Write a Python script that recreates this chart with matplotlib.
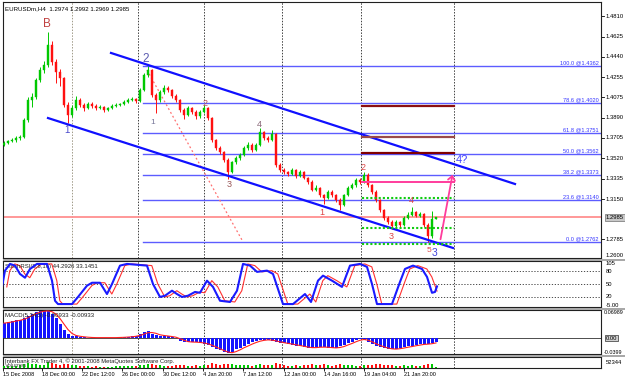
import matplotlib
matplotlib.use('Agg')
import matplotlib.pyplot as plt
import numpy as np
import pandas as pd
from matplotlib.patches import Rectangle, FancyArrowPatch
from matplotlib.transforms import blended_transform_factory

plt.rcParams['font.family'] = ['Liberation Sans', 'DejaVu Sans']

# ---------------- data ----------------
first_open = 1.3640
closes = [1.3660,1.3678,1.3687,1.3705,1.3714,1.3868,1.4050,1.4077,1.4231,1.4321,
1.4367,1.4548,1.4394,1.4303,1.4249,1.4004,1.3914,1.3977,1.4050,1.4004,
1.3977,1.4013,1.3995,1.3977,1.3986,1.3959,1.3977,1.3995,1.4004,1.4013,
1.4031,1.4050,1.4059,1.4040,1.4140,1.4276,1.4321,1.4095,1.4050,1.4122,
1.4158,1.4140,1.4086,1.4050,1.3959,1.3914,1.3977,1.3941,1.3904,1.3941,
1.3977,1.3886,1.3687,1.3614,1.3578,1.3506,1.3397,1.3488,1.3524,1.3551,
1.3614,1.3642,1.3596,1.3642,1.3759,1.3705,1.3687,1.3741,1.3460,1.3415,
1.3397,1.3379,1.3415,1.3361,1.3397,1.3342,1.3306,1.3234,1.3252,1.3188,
1.3161,1.3216,1.3188,1.3143,1.3098,1.3188,1.3252,1.3279,1.3324,1.3306,
1.3370,1.3279,1.3216,1.3143,1.3052,1.2980,1.2944,1.2907,1.2944,1.2916,
1.2980,1.3007,1.3034,1.2998,1.3016,1.2916,1.2817,1.2974,1.2985]
highs = [1.3675,1.3690,1.3705,1.3720,1.3730,1.3885,1.4075,1.4110,1.4250,1.4345,
1.4400,1.4666,1.4580,1.4420,1.4330,1.4260,1.4030,1.4000,1.4085,1.4070,
1.4020,1.4030,1.4035,1.4010,1.4000,1.3995,1.3990,1.4010,1.4020,1.4025,
1.4045,1.4065,1.4075,1.4070,1.4155,1.4295,1.4362,1.4335,1.4110,1.4140,
1.4185,1.4175,1.4150,1.4100,1.4060,1.3975,1.3995,1.3990,1.3955,1.3960,
1.4000,1.3990,1.3895,1.3700,1.3630,1.3590,1.3520,1.3500,1.3540,1.3570,
1.3630,1.3670,1.3660,1.3660,1.3800,1.3770,1.3720,1.3780,1.3750,1.3475,
1.3430,1.3410,1.3430,1.3425,1.3415,1.3405,1.3355,1.3320,1.3275,1.3265,
1.3200,1.3230,1.3230,1.3200,1.3160,1.3200,1.3270,1.3295,1.3340,1.3340,
1.3400,1.3385,1.3290,1.3230,1.3155,1.3065,1.2995,1.2960,1.2960,1.2955,
1.3000,1.3030,1.3080,1.3045,1.3035,1.3025,1.2930,1.3040,1.2992]
lows = [1.3630,1.3650,1.3665,1.3670,1.3690,1.3705,1.3850,1.3990,1.4060,1.4215,
1.4290,1.4350,1.4370,1.4200,1.4180,1.3990,1.3840,1.3895,1.3960,1.3985,
1.3950,1.3965,1.3980,1.3960,1.3965,1.3945,1.3950,1.3970,1.3985,1.3995,
1.4005,1.4020,1.4040,1.4025,1.4030,1.4130,1.4260,1.4080,1.3932,1.4035,
1.4100,1.4120,1.4070,1.4030,1.3940,1.3880,1.3900,1.3925,1.3880,1.3890,
1.3930,1.3870,1.3670,1.3600,1.3560,1.3490,1.3330,1.3385,1.3470,1.3510,
1.3540,1.3600,1.3580,1.3585,1.3630,1.3690,1.3670,1.3675,1.3440,1.3400,
1.3380,1.3360,1.3365,1.3345,1.3350,1.3330,1.3290,1.3220,1.3220,1.3170,
1.3110,1.3150,1.3170,1.3125,1.3055,1.3085,1.3175,1.3240,1.3265,1.3290,
1.3295,1.3265,1.3200,1.3125,1.3035,1.2965,1.2925,1.2880,1.2895,1.2895,
1.2905,1.2970,1.2995,1.2985,1.2985,1.2900,1.2762,1.2800,1.2969]
opens = [first_open] + closes[:-1]

volumes = [22000,18000,15000,20000,26000,38000,45000,40000,35000,30000,
28000,52344,42000,36000,30000,40000,33000,25000,30000,22000,
18000,15000,12000,14000,10000,9000,11000,13000,15000,14000,
16000,18000,20000,17000,25000,30000,34000,38000,30000,24000,
20000,18000,22000,24000,28000,26000,20000,22000,24000,21000,
23000,30000,42000,36000,30000,34000,40000,32000,26000,24000,
28000,26000,22000,25000,34000,28000,24000,30000,44000,32000,
26000,22000,20000,24000,22000,26000,28000,34000,26000,30000,
32000,26000,22000,28000,34000,30000,26000,24000,22000,20000,
28000,30000,26000,32000,36000,30000,28000,26000,22000,20000,
24000,22000,26000,20000,18000,28000,36000,40000,8000]

macd_hist = [0.037,0.040,0.043,0.044,0.045,0.051,0.056,0.061,0.065,0.067,
0.068,0.068,0.061,0.050,0.035,0.019,0.009,0.006,0.004,0.003,
0.002,0.001,0.001,0.001,0.001,0.001,0.001,0.001,0.001,0.002,
0.002,0.003,0.004,0.006,0.009,0.014,0.017,0.010,0.008,0.006,
0.005,0.004,0.002,0.000,-0.007,-0.010,-0.010,-0.010,-0.011,-0.012,
-0.014,-0.018,-0.022,-0.027,-0.031,-0.036,-0.038,-0.036,-0.028,-0.025,
-0.020,-0.015,-0.011,-0.008,-0.005,-0.0045,-0.0045,-0.007,-0.010,-0.012,
-0.013,-0.015,-0.017,-0.019,-0.020,-0.023,-0.025,-0.024,-0.023,-0.022,
-0.023,-0.024,-0.025,-0.025,-0.021,-0.018,-0.013,-0.010,-0.005,-0.002,
-0.004,-0.010,-0.014,-0.019,-0.022,-0.025,-0.028,-0.028,-0.027,-0.025,
-0.023,-0.021,-0.020,-0.017,-0.016,-0.015,-0.015,-0.0125,-0.0093]

stoch_x = [-0.5,0.25,1.5,2.75,4,5.25,6.5,8.25,10.75,12,12.75,13.5,17,18.5,20.75,22,24,25.75,27,29,
           30.75,35.75,37.25,39,40.25,42,43.25,44.5,46,47.75,49,50.75,52.25,54,56.5,58.25,59.75,61.5,
           63.25,65.75,67.25,69.75,72.25,75.25,76.75,78.5,79.75,82,84.5,86.5,89,90.75,92,93.25,97,99,
           100.25,102.25,104.5,105.75,107,107.75,108.25]
stoch_main = [43,82,98,94,74,65,86,98,98,58,10,2,2,19,46,53,53,26,50,94,
              98,94,50,19,22,34,26,19,22,31,29,58,43,10,7,34,98,94,
              79,82,74,2,2,26,7,58,70,58,43,94,98,91,50,2,2,55,
              86,94,86,67,29,31,44.29]
stoch_signal = stoch_main[:60] + [33.15]

fib_pct = ["100.0", "78.6", "61.8", "50.0", "38.2", "23.6", "0.0"]
fib_price = [1.4362, 1.4020, 1.3751, 1.3562, 1.3373, 1.3140, 1.2762]
fib_start = 34.75

price_ticks = [1.4810, 1.4625, 1.4440, 1.4255, 1.4075, 1.3890, 1.3705, 1.3520,
               1.3335, 1.3150, 1.2785]
bottom_price_label = "1.2600"
date_pos = [-0.25, 9.5, 19.5, 29.5, 39.75, 49.75, 59.75, 70, 80, 90, 100]
date_labels = ["15 Dec 2008", "18 Dec 00:00", "22 Dec 12:00", "26 Dec 00:00", "30 Dec 12:00",
               "4 Jan 20:00", "7 Jan 12:00", "12 Jan 00:00", "14 Jan 16:00", "19 Jan 04:00",
               "21 Jan 20:00"]
vlines_pos = [17, 33.5, 50, 69.5, 89.25, 112.5]

channel_upper = [(26.75, 1.4476), (127.75, 1.3288)]
channel_lower = [(11.0, 1.3886), (112.25, 1.2708)]
red_diag = [(35.75, 1.4321), (59.5, 1.2780)]
arrow_pts = [(109.0, 1.2762), (112.25, 1.3397)]
maroon_levels = [1.3995, 1.3712, 1.3566]
pink_level = 1.3306
green_levels = [1.3161, 1.2889, 1.2744]
zone_span = (89.5, 112.5)
current_price = 1.2985

wave_labels = [
    (10.75, 1.4738, "B", "#c04040", 8.5),
    (15.75, 1.3778, "1", "#4a4acc", 7),
    (35.5, 1.4421, "2", "#5a5ab0", 8.5),
    (37.25, 1.3850, "1", "#777799", 6),
    (50.25, 1.4022, "2", "#bb5555", 6.5),
    (56.25, 1.3279, "3", "#995555", 6.5),
    (63.75, 1.3823, "4", "#886677", 6.5),
    (79.5, 1.3034, "1", "#dd4444", 6.5),
    (89.75, 1.3433, "2", "#dd4444", 6.5),
    (96.75, 1.2808, "3", "#dd4444", 6.5),
    (101.75, 1.3134, "4", "#dd4444", 6.5),
    (106.25, 1.2681, "5", "#dd4444", 6),
    (107.6, 1.2663, "3", "#4444dd", 7.5),
    (114.5, 1.3506, "4?", "#4444ff", 8),
]

# ---------------- figure ----------------
W, H = 625, 377
fig = plt.figure(figsize=(W / 100, H / 100), dpi=100)
fig.patch.set_facecolor('white')

def ax_at(x0, y0, x1, y1):
    return fig.add_axes([x0 / W, 1 - y1 / H, (x1 - x0) / W, (y1 - y0) / H])

XL = (-0.25, 149.25)
ax = ax_at(3, 2, 601, 258)
axs = ax_at(3, 261, 601, 307)
axm = ax_at(3, 310, 601, 354)
axv = ax_at(3, 357, 601, 368)

LBL = 4.2  # right-scale label size

for a in (ax, axs, axm, axv):
    a.set_xlim(*XL)
    a.set_xticks([])
    a.set_yticks([])
    for s in a.spines.values():
        s.set_color('#202020')
        s.set_linewidth(0.8)
    for xv in vlines_pos:
        col = '#a09a88' if xv == vlines_pos[0] else '#404040'
        a.axvline(xv, color=col, lw=0.7, ls=(0, (1.5, 1.5)), zorder=1)

# separators
for yy in (258, 307, 354):
    fig.patches.append(Rectangle((3 / W, 1 - (yy + 2.5) / H), (W - 3) / W, 2 / H,
                                 transform=fig.transFigure, facecolor='#a8a8a8',
                                 edgecolor='none', zorder=0))

# ---- main panel ----
ax.set_ylim(1.2617, 1.4938)
idx = np.arange(len(closes))
for i in idx:
    o, c, h, l = opens[i], closes[i], highs[i], lows[i]
    col = '#00c800' if c >= o else '#ff1010'
    ax.plot([i, i], [l, h], color=col, lw=0.7, zorder=3, solid_capstyle='butt')
    ax.add_patch(Rectangle((i - 0.3, min(o, c)), 0.6, max(abs(c - o), 0.0004),
                           facecolor=col, edgecolor=col, lw=0.3, zorder=3))

ax.axhline(current_price, color='#ff9090', lw=1.3, zorder=2)

for p in fib_price:
    ax.plot([fib_start, XL[1]], [p, p], color='#5c5cff', lw=1.0, zorder=2)
btr = blended_transform_factory(ax.transAxes, ax.transData)
for lab, p in zip(fib_pct, fib_price):
    ax.text(0.996, p + 0.0006, f"{lab} @{p:.4f}", transform=btr,
            ha='right', va='bottom', fontsize=4.1, color='#3434ff', zorder=5)

ax.plot(*zip(*channel_upper), color='#1010ff', lw=1.6, zorder=4)
ax.plot(*zip(*channel_lower), color='#1010ff', lw=1.6, zorder=4)
ax.plot(*zip(*red_diag), color='#ff7070', lw=0.9, ls=(0, (1.5, 2)), zorder=2)

for p, col in zip(maroon_levels, ['#8b1010', '#9a4a4a', '#800000']):
    ax.plot(zone_span, [p, p], color=col, lw=1.6, zorder=4)
ax.plot(zone_span, [pink_level, pink_level], color='#ff3c9c', lw=1.4, zorder=4)
for p in green_levels:
    ax.plot(zone_span, [p, p], color='#10cc10', lw=1.5, ls=(0, (1, 1)), zorder=4)

arr = FancyArrowPatch(arrow_pts[0], arrow_pts[1], arrowstyle='->,head_length=3,head_width=2.5',
                      color='#ff3c9c', lw=1.3, zorder=6, mutation_scale=1)
ax.add_patch(arr)

for (bx, py, t, col, fs) in wave_labels:
    ax.text(bx, py, t, ha='center', va='center', color=col, fontsize=fs, zorder=7)

ax.text(0.004, 0.985, "EURUSDm,H4  1.2974 1.2992 1.2969 1.2985", transform=ax.transAxes,
        ha='left', va='top', fontsize=4.4, color='black')

for p in price_ticks:
    ax.plot([1.0, 1.005], [p, p], transform=btr, color='black', lw=0.6, clip_on=False)
    ax.text(1.008, p, f"{p:.4f}", transform=btr, ha='left', va='center', fontsize=LBL,
            color='black', clip_on=False)
ax.text(1.008, 0.0, bottom_price_label, transform=ax.transAxes, ha='left', va='bottom',
        fontsize=LBL, color='black', clip_on=False)
ax.text(1.008, current_price, f"{current_price:.4f}", transform=btr, ha='left', va='center',
        fontsize=LBL, color='black', clip_on=False,
        bbox=dict(boxstyle='square,pad=0.15', facecolor='#c8c8c8', edgecolor='#707070', lw=0.5))

# ---- stoch panel ----
axs.set_ylim(-5, 105)
for lv in (80, 50, 20):
    axs.axhline(lv, color='#303030', lw=0.6, ls=(0, (1.5, 2)))
sig_x = [x + 1.2 for x in stoch_x[:60]] + [stoch_x[-1]]
axs.plot(sig_x, stoch_signal, color='#ff3030', lw=0.8, zorder=3)
axs.plot(stoch_x, stoch_main, color='#1a1aff', lw=1.5, zorder=4)
axs.text(0.004, 0.93, "StochRSI(8,8,16) 44.2926 33.1451", transform=axs.transAxes,
         ha='left', va='top', fontsize=4.3, color='#202020')
str_ = blended_transform_factory(axs.transAxes, axs.transData)
for v, t in [(98, "105"), (80, "80"), (50, "50"), (20, "20"), (-1, "-5.00")]:
    axs.text(1.008, v, t, transform=str_, ha='left', va='center', fontsize=LBL, clip_on=False)

# ---- macd panel ----
axm.set_ylim(-0.0399, 0.06989)
axm.bar(idx, macd_hist, width=0.75, color='#1414ff', edgecolor='none', zorder=3)
sig = pd.Series(macd_hist).rolling(3, min_periods=1).mean()
axm.plot(idx, sig, color='#ff2020', lw=0.8, zorder=4)
axm.axhline(0, color='#303030', lw=0.6, zorder=2)
axm.text(0.004, 0.93, "MACD(5,34,5) -0.00933 -0.00933", transform=axm.transAxes,
         ha='left', va='top', fontsize=4.3, color='#202020', zorder=6)
mtr = blended_transform_factory(axm.transAxes, axm.transData)
axm.text(1.004, 0.064, "0.06989", transform=mtr, ha='left', va='center', fontsize=3.9, clip_on=False)
axm.text(1.008, 0.0, "0.00", transform=mtr, ha='left', va='center', fontsize=LBL, clip_on=False,
         bbox=dict(boxstyle='square,pad=0.1', facecolor='#d0d0d0', edgecolor='#303030', lw=0.5))
axm.text(1.004, -0.035, "-0.0399", transform=mtr, ha='left', va='center', fontsize=3.9, clip_on=False)

# ---- volume panel ----
axv.set_ylim(0, 100000)
vcols = ['#00c800' if c >= o else '#ff1010' for o, c in zip(opens, closes)]
axv.bar(idx, volumes, width=0.6, color=vcols, edgecolor='none', zorder=3)
axv.text(0.004, 0.6, "Interbank FX Trader 4, \u00a9 2001-2008 MetaQuotes Software Corp.",
         transform=axv.transAxes, ha='left', va='center', fontsize=4.2, color='#202020', zorder=5)
axv.text(0.004, 0.2, "Volumes", transform=axv.transAxes, ha='left', va='center',
         fontsize=4.2, color='#505050', zorder=5)
axv.text(1.008, 0.5, "52344", transform=axv.transAxes, ha='left', va='center', fontsize=LBL,
         clip_on=False)
axv.set_xticks(date_pos)
axv.set_xticklabels(date_labels, ha='left', fontsize=4.0)
axv.tick_params(axis='x', length=2, width=0.6, pad=1.0, direction='out')

fig.savefig('out.png', dpi=100, facecolor='white')
